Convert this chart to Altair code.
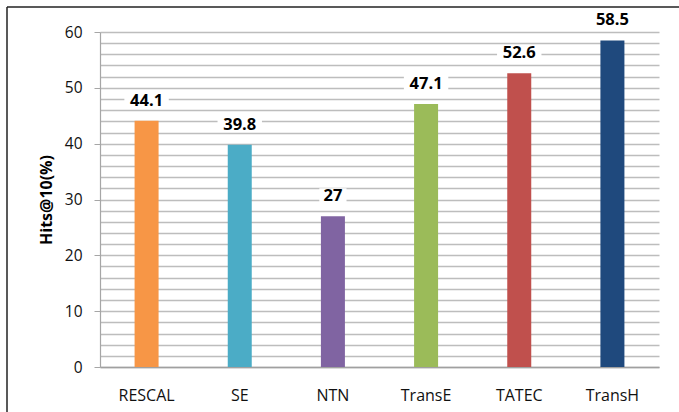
import altair as alt
import pandas as pd

# Hits@10 (%) per embedding model
models = ["RESCAL", "SE", "NTN", "TransE", "TATEC", "TransH"]
hits = [44.1, 39.8, 27, 47.1, 52.6, 58.5]
colors = ["#f79646", "#4bacc6", "#8064a2", "#9bbb59", "#c0504d", "#1f497d"]

df = pd.DataFrame({"model": models, "hits": hits})

FONT = "Open Sans"
W, H = 559, 335

x_enc = alt.X(
    "model:N",
    sort=models,
    scale=alt.Scale(paddingInner=0, paddingOuter=0),
    axis=alt.Axis(
        title=None,
        labelAngle=0,
        ticks=False,
        labelFont=FONT,
        labelFontSize=16,
        labelColor="#111111",
        labelPadding=20,
        domainColor="#a0a0a0",
        domainWidth=1.5,
        grid=False,
    ),
)

y_enc = alt.Y(
    "hits:Q",
    scale=alt.Scale(domain=[0, 60], nice=False),
    axis=alt.Axis(
        title="Hits@10(%)",
        titleFont=FONT,
        titleFontSize=16,
        titleFontWeight="bold",
        titleColor="#000000",
        titlePadding=10,
        values=list(range(0, 61, 2)),
        labelExpr="datum.value % 10 === 0 ? datum.label : ''",
        labelFont=FONT,
        labelFontSize=15.5,
        labelColor="#111111",
        labelPadding=12,
        tickSize=6,
        tickColor="#a6a6a6",
        tickOpacity={"condition": {"test": "datum.value % 10 === 0", "value": 1}, "value": 0},
        domainColor="#a6a6a6",
        domainWidth=1.2,
        gridColor="#bdbdbd",
        gridWidth=1.4,
    ),
)

base = alt.Chart(df).encode(x=x_enc, y=y_enc)

bars = base.mark_bar(size=24).encode(
    color=alt.Color("model:N", sort=models, scale=alt.Scale(domain=models, range=colors), legend=None)
)

# white boxes behind the value labels, width follows the label length
boxes = (
    base.transform_calculate(
        label="toString(datum.hits)",
        bw="length(datum.label) * 8.6 + 10",
        r="14 / datum.bw",
        boxpath="'M-1,' + (-datum.r) + 'H1V' + datum.r + 'H-1Z'",
        bsize="datum.bw * datum.bw",
    )
    .mark_point(filled=True, color="white", opacity=1, strokeWidth=0, yOffset=-21)
    .encode(shape=alt.Shape("boxpath:N", scale=None), size=alt.Size("bsize:Q", scale=None))
)

labels = (
    base.transform_calculate(label="toString(datum.hits)")
    .mark_text(dy=-20, font=FONT, fontSize=16.5, fontWeight="bold", color="#000000", baseline="middle")
    .encode(text="label:N")
)

frame = alt.Data(values=[{}])
left_edge = alt.Chart(frame).mark_rule(color="#222222", strokeWidth=1.5).encode(
    x=alt.value(-93), y=alt.value(-25), y2=alt.value(H + 60)
)
top_edge = alt.Chart(frame).mark_rule(color="#222222", strokeWidth=1.5).encode(
    x=alt.value(-93), x2=alt.value(W + 40), y=alt.value(-25)
)

chart = (
    alt.layer(bars, boxes, labels, left_edge, top_edge)
    .properties(
        width=W,
        height=H,
        autosize=alt.AutoSizeParams(type="none"),
        padding={"left": 100, "top": 32, "right": 20, "bottom": 45},
        background="white",
    )
    .configure_view(stroke=None)
)

chart.save("out.html", embed_options={"renderer": "svg", "actions": False})
